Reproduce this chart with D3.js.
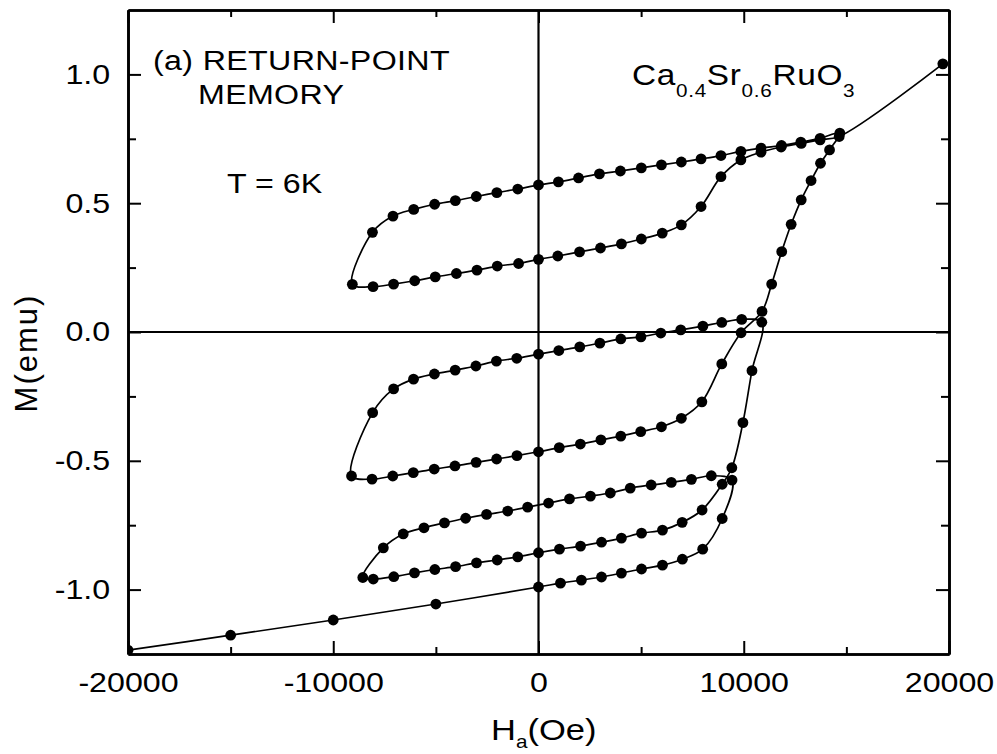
<!DOCTYPE html>
<html>
<head>
<meta charset="utf-8">
<script src="https://cdn.jsdelivr.net/npm/d3@7"></script>
<style>
  html, body { margin: 0; padding: 0; background: #fff; }
  svg { display: block; }
  text { font-family: "Liberation Sans", Arial, Helvetica, sans-serif; fill: #000; }
</style>
</head>
<body>
<svg id="chart" width="997" height="754"></svg>
<script>
// Ca0.4Sr0.6RuO3, T = 6 K: return-point memory of the magnetisation.
// Each branch lists applied field H_a (Oe) and moment M (emu) in measurement order.

// ascending envelope from -20 kOe up to the first reversal
const envH = [-20000, -15000, -10000, -5000, 0, 1070, 2090, 3070, 4040, 5020, 6040, 7010, 8000, 8950, 9430];
const envM = [-1.235, -1.177, -1.118, -1.056, -0.990, -0.975, -0.963, -0.951, -0.936, -0.920, -0.905, -0.882, -0.843, -0.724, -0.575];

// lowest minor loop: descending, then ascending back to its reversal point
const loop3DownH = [8420, 7450, 6470, 5490, 4470, 3500, 2530, 1510, 490, -530, -1500, -2530, -3550, -4580, -5580, -6590, -7560, -8560];
const loop3DownM = [-0.558, -0.572, -0.584, -0.594, -0.606, -0.625, -0.637, -0.648, -0.664, -0.680, -0.695, -0.708, -0.723, -0.741, -0.760, -0.784, -0.838, -0.953];
const loop3UpH = [-8050, -7050, -6040, -5050, -4040, -3020, -2010, -1010, 0, 1020, 2050, 3070, 4040, 5020, 6040, 7000, 7970, 8950, 9420];
const loop3UpM = [-0.959, -0.950, -0.935, -0.922, -0.911, -0.896, -0.885, -0.873, -0.857, -0.843, -0.831, -0.816, -0.800, -0.781, -0.769, -0.739, -0.691, -0.591, -0.527];

// envelope between the lowest and the middle loop
const riseAH = [9960, 10400, 10880];
const riseAM = [-0.352, -0.150, 0.038];

// middle minor loop
const loop2DownH = [9900, 8930, 8010, 6930, 5960, 4990, 4010, 2990, 2010, 990, 0, -1060, -2050, -3050, -4060, -5070, -6090, -7060, -8080, -9110];
const loop2DownM = [0.049, 0.037, 0.023, 0.008, -0.004, -0.019, -0.027, -0.043, -0.058, -0.072, -0.086, -0.102, -0.113, -0.132, -0.148, -0.163, -0.183, -0.221, -0.313, -0.559];
const loop2UpH = [-8110, -7100, -6100, -5080, -4070, -3040, -2040, -1050, 0, 1010, 2040, 3040, 4010, 4980, 5990, 6960, 7960, 8930, 9870, 10890];
const loop2UpM = [-0.571, -0.559, -0.546, -0.532, -0.520, -0.506, -0.493, -0.480, -0.465, -0.449, -0.435, -0.419, -0.404, -0.387, -0.368, -0.335, -0.271, -0.124, -0.003, 0.080];

// envelope between the middle and the upper loop
const riseBH = [11360, 11850, 12310, 12800, 13280, 13740, 14180, 14680];
const riseBM = [0.186, 0.312, 0.418, 0.513, 0.588, 0.655, 0.707, 0.772];

// upper minor loop
const loop1DownH = [13720, 12780, 11840, 10840, 9860, 8890, 7920, 6960, 5990, 5010, 3990, 2970, 1950, 970, 0, -1010, -2030, -3030, -4050, -5060, -6080, -7090, -8090, -9070];
const loop1DownM = [0.752, 0.737, 0.724, 0.714, 0.701, 0.685, 0.672, 0.660, 0.649, 0.637, 0.625, 0.614, 0.598, 0.583, 0.571, 0.555, 0.541, 0.526, 0.510, 0.496, 0.476, 0.450, 0.387, 0.185];
const loop1UpH = [-8060, -7060, -6030, -5030, -4000, -3000, -2010, -970, 0, 940, 2000, 3020, 4040, 5010, 6030, 6960, 7920, 8890, 9860, 10840, 11820, 12800, 13720, 14650];
const loop1UpM = [0.176, 0.186, 0.199, 0.214, 0.227, 0.240, 0.256, 0.266, 0.282, 0.295, 0.311, 0.326, 0.342, 0.361, 0.384, 0.416, 0.487, 0.603, 0.668, 0.698, 0.718, 0.732, 0.746, 0.759];

// final point towards saturation
const topH = [19700];
const topM = [1.041];

// axis ticks
const xMajorTicks = [-20000, -10000, 0, 10000, 20000];
const xMinorTicks = [-15000, -5000, 5000, 15000];
const yMajorTicks = [-1.0, -0.5, 0.0, 0.5, 1.0];
const yMinorTicks = [-0.75, -0.25, 0.25, 0.75];

const branches = [
  [envH, envM], [loop3DownH, loop3DownM], [loop3UpH, loop3UpM],
  [riseAH, riseAM], [loop2DownH, loop2DownM], [loop2UpH, loop2UpM],
  [riseBH, riseBM], [loop1DownH, loop1DownM], [loop1UpH, loop1UpM],
  [topH, topM]
];
const points = branches.flatMap(([h, m]) => h.map((v, i) => ({ h: v, m: m[i] })));

const SX = 1.15; // horizontal stretch of the lettering
const svg = d3.select("#chart");
const plotLeft = 128, plotRight = 949, plotTop = 10, plotBottom = 654;

const x = d3.scaleLinear().domain([-20000, 20000]).range([plotLeft, plotRight]);
const y = d3.scaleLinear().domain([-1.25, 1.25]).range([plotBottom, plotTop]);

svg.append("defs").append("clipPath").attr("id", "plotArea")
  .append("rect").attr("x", plotLeft).attr("y", plotTop)
  .attr("width", plotRight - plotLeft).attr("height", plotBottom - plotTop);

// zero lines
svg.append("line")
  .attr("x1", plotLeft).attr("x2", plotRight).attr("y1", y(0)).attr("y2", y(0))
  .attr("stroke", "#000").attr("stroke-width", 2);
svg.append("line")
  .attr("x1", x(0)).attr("x2", x(0)).attr("y1", plotTop).attr("y2", plotBottom)
  .attr("stroke", "#000").attr("stroke-width", 2.2);

// axes with inward ticks
function styleAxis(g) {
  g.select(".domain").attr("stroke", "#000").attr("stroke-width", 2.6);
  g.selectAll(".tick line").attr("stroke", "#000").attr("stroke-width", 2);
}

const gB = svg.append("g").attr("transform", `translate(0,${plotBottom})`)
  .call(d3.axisBottom(x).tickValues(xMajorTicks).tickSize(-13).tickSizeOuter(0)
    .tickPadding(18).tickFormat(d => String(d)));
styleAxis(gB);
gB.selectAll("text").attr("font-size", 28)
  .attr("font-family", "'Liberation Sans', Arial, sans-serif")
  .attr("transform", `scale(${SX},1)`);
svg.append("g").attr("transform", `translate(0,${plotBottom})`)
  .call(d3.axisBottom(x).tickValues(xMinorTicks).tickSize(-7).tickSizeOuter(0).tickFormat(""))
  .call(styleAxis);

svg.append("g").attr("transform", `translate(0,${plotTop})`)
  .call(d3.axisTop(x).tickValues(xMajorTicks).tickSize(-13).tickSizeOuter(0).tickFormat(""))
  .call(styleAxis);
svg.append("g").attr("transform", `translate(0,${plotTop})`)
  .call(d3.axisTop(x).tickValues(xMinorTicks).tickSize(-7).tickSizeOuter(0).tickFormat(""))
  .call(styleAxis);

const gL = svg.append("g").attr("transform", `translate(${plotLeft},0)`)
  .call(d3.axisLeft(y).tickValues(yMajorTicks).tickSize(-13).tickSizeOuter(0)
    .tickPadding(15.5).tickFormat(d => d.toFixed(1)));
styleAxis(gL);
gL.selectAll("text").attr("font-size", 28)
  .attr("font-family", "'Liberation Sans', Arial, sans-serif")
  .attr("transform", `scale(${SX},1)`);
svg.append("g").attr("transform", `translate(${plotLeft},0)`)
  .call(d3.axisLeft(y).tickValues(yMinorTicks).tickSize(-8).tickSizeOuter(0).tickFormat(""))
  .call(styleAxis);

svg.append("g").attr("transform", `translate(${plotRight},0)`)
  .call(d3.axisRight(y).tickValues(yMajorTicks).tickSize(-13).tickSizeOuter(0).tickFormat(""))
  .call(styleAxis);
svg.append("g").attr("transform", `translate(${plotRight},0)`)
  .call(d3.axisRight(y).tickValues(yMinorTicks).tickSize(-8).tickSizeOuter(0).tickFormat(""))
  .call(styleAxis);

// measured curve and points
const plot = svg.append("g").attr("clip-path", "url(#plotArea)");
const line = d3.line().x(d => x(d.h)).y(d => y(d.m)).curve(d3.curveCatmullRom.alpha(0.5));
plot.append("path").datum(points).attr("d", line)
  .attr("fill", "none").attr("stroke", "#000").attr("stroke-width", 1.7);
plot.selectAll("circle").data(points).join("circle")
  .attr("cx", d => x(d.h)).attr("cy", d => y(d.m)).attr("r", 5.4).attr("fill", "#000");

// lettering
function label(xp, yp, size, anchor) {
  return svg.append("text")
    .attr("transform", `translate(${xp},${yp}) scale(${SX},1)`)
    .attr("font-size", size).attr("text-anchor", anchor || "start");
}
label(153, 70, 28).text("(a) RETURN-POINT").attr("letter-spacing", 0.3);
label(198, 104, 28).text("MEMORY").attr("letter-spacing", 0.3);
label(227, 193, 28).text("T = 6K");

const formula = label(632, 85, 29).attr("letter-spacing", 0.6);
formula.append("tspan").text("Ca");
formula.append("tspan").attr("font-size", 18).attr("dy", 12).text("0.4");
formula.append("tspan").attr("dy", -12).text("Sr");
formula.append("tspan").attr("font-size", 18).attr("dy", 12).text("0.6");
formula.append("tspan").attr("dy", -12).text("RuO");
formula.append("tspan").attr("font-size", 18).attr("dy", 12).text("3");

const xTitle = label(491, 740, 30);
xTitle.append("tspan").text("H");
xTitle.append("tspan").attr("font-size", 18).attr("dy", 8).text("a");
xTitle.append("tspan").attr("dy", -8).text("(Oe)");

svg.append("text")
  .attr("transform", "translate(37,353) rotate(-90)")
  .attr("text-anchor", "middle").attr("font-size", 31).attr("letter-spacing", 2)
  .text("M(emu)");
</script>
</body>
</html>
